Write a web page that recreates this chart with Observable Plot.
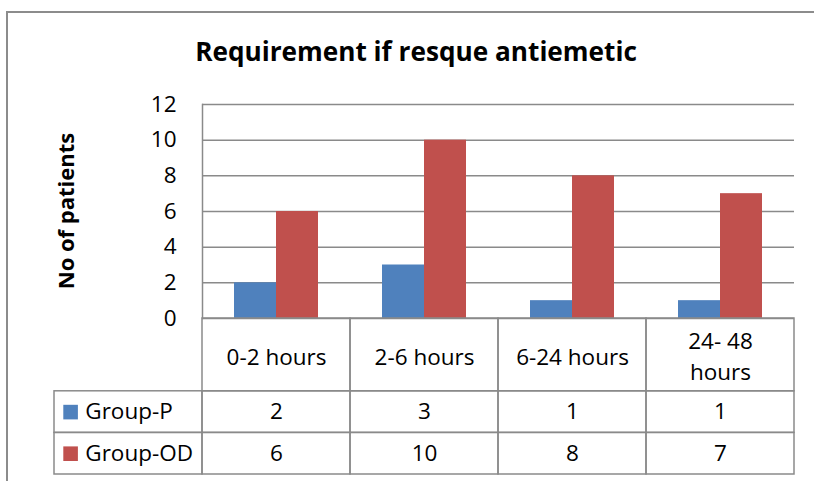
<!DOCTYPE html>
<html>
<head>
<meta charset="utf-8">
<script src="https://cdn.jsdelivr.net/npm/d3@7"></script>
<script src="https://cdn.jsdelivr.net/npm/@observablehq/plot@0.6"></script>
<style>
  body { margin: 0; background: #fff; overflow: hidden; }
  #wrap { position: relative; width: 814px; height: 481px; overflow: hidden; background: #fff; font-family: "Open Sans", sans-serif; color: #000; }
  #frame { position: absolute; left: 6px; top: 11px; width: 900px; height: 600px; border: 2px solid #8c8c8c; box-sizing: border-box; }
  #title { position: absolute; left: 0; width: 832px; top: 38px; text-align: center; font-weight: bold; font-size: 26.2px; line-height: 26px; white-space: nowrap; }
  #ylabel { position: absolute; left: -35.5px; top: 200px; width: 200px; height: 22px; line-height: 22px; text-align: center; font-weight: bold; font-size: 22px; white-space: nowrap; transform: rotate(-90deg); transform-origin: center center; }
  .box { position: absolute; left: 0; }
</style>
</head>
<body>
<div id="wrap">
  <div id="frame"></div>
  <div id="title">Requirement if resque antiemetic</div>
  <div id="ylabel">No of patients</div>
  <div id="chart" class="box" style="top:0px"></div>
  <div id="table" class="box" style="top:312px"></div>
</div>
<script>
// ---- data ----
const categories = ["0-2 hours", "2-6 hours", "6-24 hours", "24- 48 hours"];
const categoryLabels = ["0-2 hours", "2-6 hours", "6-24 hours", "24- 48\nhours"];
const groups = ["Group-P", "Group-OD"];
const groupP = [2, 3, 1, 1];
const groupOD = [6, 10, 8, 7];
const yTicks = [0, 2, 4, 6, 8, 10, 12];
const colors = ["#4F81BD", "#C0504D"];

const bars = categories.flatMap((c, i) => [
  {category: c, group: groups[0], value: groupP[i]},
  {category: c, group: groups[1], value: groupOD[i]}
]);

const baseStyle = "font-family:'Open Sans',sans-serif;font-size:22.5px;background:transparent;overflow:visible;color:#000";
const gridColor = "#8a8a8a";

// ---- chart ----
const chart = Plot.plot({
  width: 814,
  height: 322,
  marginLeft: 201,
  marginRight: 19,
  marginTop: 104,
  marginBottom: 4,
  style: baseStyle,
  fx: {domain: categories, padding: 0, axis: null, label: null},
  x: {domain: groups, paddingInner: 0, paddingOuter: 0.755, axis: null},
  y: {domain: [0, 12], axis: null},
  color: {domain: groups, range: colors},
  marks: [
    Plot.ruleY(yTicks, {stroke: gridColor, strokeWidth: 1.5}),
    Plot.barY(bars, {fx: "category", x: "group", y: "value", fill: "group"}),
    Plot.frame({anchor: "left", fx: () => categories[0], stroke: gridColor, strokeWidth: 1.5}),
    Plot.axisY(yTicks, {tickSize: 0, tickPadding: 26, label: null, fill: "#000"})
  ]
});
document.getElementById("chart").append(chart);

// ---- data table ----
const headerSpan = 1.75;
const cols = ["legend", ...categories];
const cells = [
  ...categories.map(c => ({col: c, y1: 0, y2: headerSpan})),
  ...cols.map(c => ({col: c, y1: headerSpan, y2: headerSpan + 1})),
  ...cols.map(c => ({col: c, y1: headerSpan + 1, y2: headerSpan + 2}))
];

const table = Plot.plot({
  width: 814,
  height: 169,
  marginLeft: 53,
  marginRight: 19,
  marginTop: 6,
  marginBottom: 7,
  style: baseStyle,
  x: {domain: cols, padding: 0, axis: null},
  y: {domain: [0, headerSpan + 2], range: [6, 162], axis: null},
  color: {domain: groups, range: colors},
  marks: [
    Plot.barY(cells, {x: "col", y1: "y1", y2: "y2", fill: "none", stroke: gridColor, strokeWidth: 1.5}),
    Plot.text(categories, {x: d => d, y: () => headerSpan / 2, text: (d, i) => categoryLabels[i], lineHeight: 1.37, fill: "#000"}),
    Plot.text(groupP, {x: (d, i) => categories[i], y: () => headerSpan + 0.5, text: d => String(d), fill: "#000"}),
    Plot.text(groupOD, {x: (d, i) => categories[i], y: () => headerSpan + 1.5, text: d => String(d), fill: "#000"}),
    Plot.dot(groups, {x: () => "legend", y: (d, i) => headerSpan + 0.5 + i, symbol: "square", r: 8.24, fill: d => d, dx: -57.9}),
    Plot.text(groups, {x: () => "legend", y: (d, i) => headerSpan + 0.5 + i, text: d => d, textAnchor: "start", dx: -43.2, fill: "#000"})
  ]
});
document.getElementById("table").append(table);
</script>
</body>
</html>
